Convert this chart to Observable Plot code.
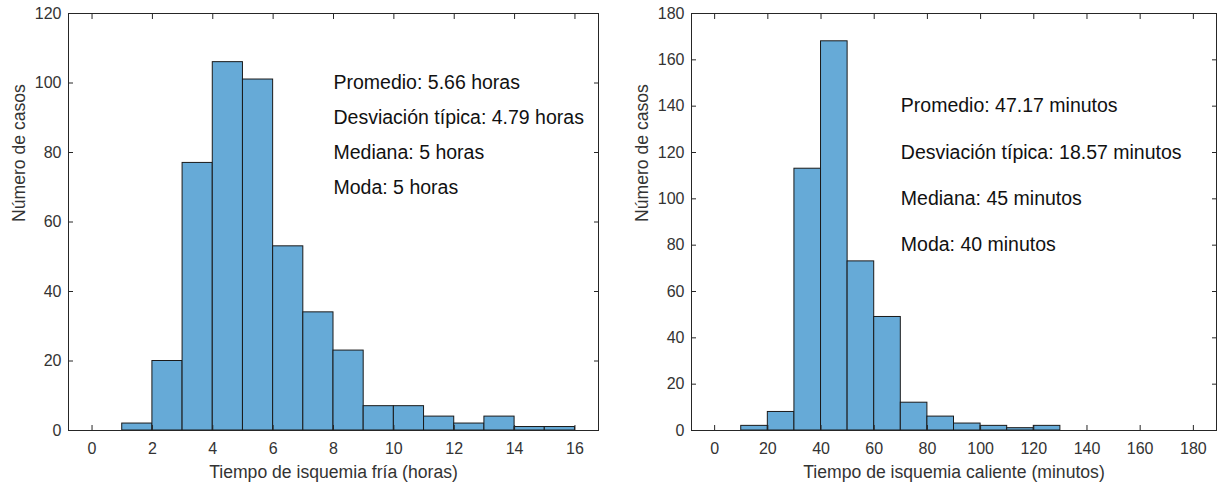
<!DOCTYPE html>
<html>
<head>
<meta charset="utf-8">
<script src="https://cdn.jsdelivr.net/npm/d3@7"></script>
<script src="https://cdn.jsdelivr.net/npm/@observablehq/plot@0.6"></script>
<style>
  html, body { margin: 0; padding: 0; background: #fff; }
  #wrap { position: relative; width: 1219px; height: 485px; overflow: hidden; }
  #wrap > svg { position: absolute; top: 0; }
</style>
</head>
<body>
<div id="wrap"></div>
<script>
// Tiempo de isquemia fría: bins of one hour
const friaEdges = [1, 2, 3, 4, 5, 6, 7, 8, 9, 10, 11, 12, 13, 14, 15, 16];
const friaCounts = [2, 20, 77, 106, 101, 53, 34, 23, 7, 7, 4, 2, 4, 1, 1];
const friaTicksX = [0, 2, 4, 6, 8, 10, 12, 14, 16];
const friaTicksY = [0, 20, 40, 60, 80, 100, 120];
const friaLabel = "Tiempo de isquemia fría (horas)";
const friaStats = [
  "Promedio: 5.66 horas",
  "Desviación típica: 4.79 horas",
  "Mediana: 5 horas",
  "Moda: 5 horas"
];

// Tiempo de isquemia caliente: bins of ten minutes
const calienteEdges = [10, 20, 30, 40, 50, 60, 70, 80, 90, 100, 110, 120, 130];
const calienteCounts = [2, 8, 113, 168, 73, 49, 12, 6, 3, 2, 1, 2];
const calienteTicksX = [0, 20, 40, 60, 80, 100, 120, 140, 160, 180];
const calienteTicksY = [0, 20, 40, 60, 80, 100, 120, 140, 160, 180];
const calienteLabel = "Tiempo de isquemia caliente (minutos)";
const calienteStats = [
  "Promedio: 47.17 minutos",
  "Desviación típica: 18.57 minutos",
  "Mediana: 45 minutos",
  "Moda: 40 minutos"
];

const yLabel = "Número de casos";

const FONT = '"Liberation Sans", Arial, Helvetica, sans-serif';
const AXIS = "#262626";
const BAR = "#66aad7";

function histogram(o) {
  const bins = o.counts.map((n, i) => ({x1: o.edges[i], x2: o.edges[i + 1], n}));
  const notes = o.stats.map((text, i) => ({text, x: o.noteX, y: o.noteY[i]}));
  return Plot.plot({
    width: o.width,
    height: 485,
    marginTop: 13,
    marginBottom: 55,
    marginLeft: o.marginLeft,
    marginRight: o.marginRight,
    style: {fontFamily: FONT, color: AXIS, background: "white", overflow: "visible"},
    x: {domain: o.xDomain},
    y: {domain: o.yDomain},
    marks: [
      Plot.rectY(bins, {x1: "x1", x2: "x2", y: "n", fill: BAR, stroke: "#1a1a1a", strokeWidth: 1}),
      Plot.frame({stroke: AXIS, strokeWidth: 1}),
      // inward tick marks on all four sides
      Plot.axisX({anchor: "bottom", ticks: o.xTicks, tickSize: -5, fill: "none", stroke: AXIS}),
      Plot.axisX({anchor: "top", ticks: o.xTicks, tickSize: -5, fill: "none", stroke: AXIS}),
      Plot.axisY({anchor: "left", ticks: o.yTicks, tickSize: -5, fill: "none", stroke: AXIS}),
      Plot.axisY({anchor: "right", ticks: o.yTicks, tickSize: -5, fill: "none", stroke: AXIS}),
      // tick labels
      Plot.axisX({anchor: "bottom", ticks: o.xTicks, tickSize: 0, tickPadding: 12.5, fontSize: 16, fill: "#333", label: null}),
      Plot.axisY({anchor: "left", ticks: o.yTicks, tickSize: 0, tickPadding: 7, fontSize: 16, fill: "#333", label: null}),
      // axis titles
      Plot.text([o.xLabel], {frameAnchor: "bottom", dy: 41.5, lineAnchor: "middle", fontSize: 17.6, fill: "#333"}),
      Plot.text([yLabel], {frameAnchor: "left", dx: -56.5, rotate: -90, lineAnchor: "top", fontSize: 17.6, fill: "#333"}),
      // summary statistics
      Plot.text(notes, {x: "x", y: "y", text: "text", textAnchor: "start", fontSize: 19.5, fill: "#111"})
    ]
  });
}

const left = histogram({
  edges: friaEdges, counts: friaCounts,
  xTicks: friaTicksX, yTicks: friaTicksY,
  xDomain: [-0.78, 16.78], yDomain: [0, 120],
  xLabel: friaLabel, stats: friaStats,
  noteX: 8, noteY: [100, 90, 80, 70],
  width: 610, marginLeft: 68, marginRight: 12
});
left.style.left = "0px";

const right = histogram({
  edges: calienteEdges, counts: calienteCounts,
  xTicks: calienteTicksX, yTicks: calienteTicksY,
  xDomain: [-8.7, 188.7], yDomain: [0, 180],
  xLabel: calienteLabel, stats: calienteStats,
  noteX: 70, noteY: [140, 120, 100, 80],
  width: 609, marginLeft: 81, marginRight: 3
});
right.style.left = "610px";

const wrap = document.getElementById("wrap");
wrap.append(left, right);
</script>
</body>
</html>
